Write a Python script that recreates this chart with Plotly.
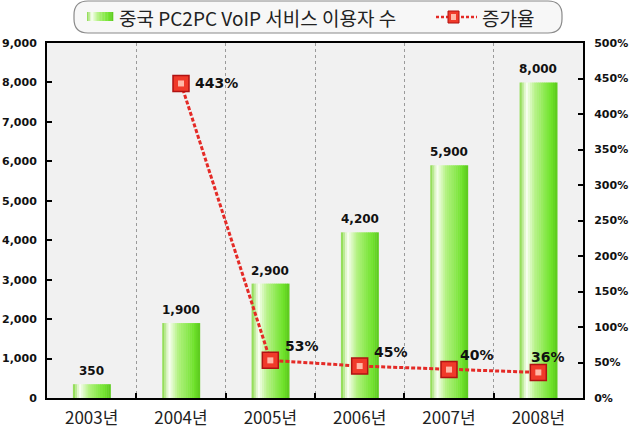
import plotly.graph_objects as go

# data
years = ["2003년", "2004년", "2005년", "2006년", "2007년", "2008년"]
users = [350, 1900, 2900, 4200, 5900, 8000]
rate_years = ["2004년", "2005년", "2006년", "2007년", "2008년"]
rates = [443, 53, 45, 40, 36]

bar_name = "중국 PC2PC VoIP 서비스 이용자 수"
line_name = "증가율"

W, H = 630, 428
L, R, T, B = 47, 47, 43, 30
PW, PH = W - L - R, H - T - B


def px(x):
    return (x - L) / PW


def py(y):
    return (H - B - y) / PH


def hexmix(c1, c2, t):
    a = [int(c1[i:i + 2], 16) for i in (1, 3, 5)]
    b = [int(c2[i:i + 2], 16) for i in (1, 3, 5)]
    return "#" + "".join(f"{round(a[k] + (b[k] - a[k]) * t):02x}" for k in range(3))


stops = [(0.0, "#84d840"), (0.18, "#fbfff6"), (0.42, "#b4f282"),
         (0.85, "#6ee22a"), (1.0, "#5cc81e")]


def grad(t):
    for (t0, c0), (t1, c1) in zip(stops, stops[1:]):
        if t <= t1:
            return hexmix(c0, c1, (t - t0) / (t1 - t0))
    return stops[-1][1]


fig = go.Figure()

# bars drawn as thin vertical strips to get the horizontal gradient
bw = 0.42
n = 18
sw = bw / n
for i in range(n):
    fig.add_trace(go.Bar(
        x=years, y=users, width=sw * 1.2, offset=-bw / 2 + i * sw,
        marker=dict(color=grad((i + 0.5) / n), line_width=0),
        showlegend=False, hoverinfo="skip"))

# growth rate line
fig.add_trace(go.Scatter(
    x=rate_years, y=rates, yaxis="y2", mode="lines+markers",
    line=dict(color="#e42a26", width=3, dash="4px,2px"),
    marker=dict(symbol="square", size=16, color="#f03a2a",
                line=dict(color="#b01212", width=1.5)),
    showlegend=False))
fig.add_trace(go.Scatter(
    x=rate_years, y=rates, yaxis="y2", mode="markers",
    marker=dict(symbol="square", size=6, color="#ffb8a8"),
    showlegend=False, hoverinfo="skip"))

label_font = dict(family="DejaVu Sans", size=12, color="#111", weight="bold")
annotations = []
for yr, v in zip(years, users):
    annotations.append(dict(x=yr, y=v, xref="x", yref="y", text=f"{v:,}",
                            showarrow=False, yanchor="bottom", yshift=4,
                            font=label_font))
# label offsets (px) next to each rate marker
rate_dx = [12, 13, 12, 9, -9]
rate_dy = [0, 14, 14, 15, 15]
for yr, v, dx, dy in zip(rate_years, rates, rate_dx, rate_dy):
    annotations.append(dict(x=yr, y=v, xref="x", yref="y2", text=f"{v}%",
                            showarrow=False, xanchor="left", yanchor="middle",
                            xshift=dx, yshift=dy,
                            font=dict(label_font, size=14)))

shapes = []
# rounded legend box
x0, x1, y0, y1, r = px(74), px(562), py(1), py(33), 14
rx, ry = r / PW, r / PH
path = (f"M {x0 + rx},{y0} L {x1 - rx},{y0} Q {x1},{y0} {x1},{y0 - ry} "
        f"L {x1},{y1 + ry} Q {x1},{y1} {x1 - rx},{y1} L {x0 + rx},{y1} "
        f"Q {x0},{y1} {x0},{y1 + ry} L {x0},{y0 - ry} Q {x0},{y0} {x0 + rx},{y0} Z")
shapes.append(dict(type="path", xref="paper", yref="paper", path=path,
                   fillcolor="#f7f7f7", line=dict(color="#8a8a8a", width=1.2)))
# green legend swatch
for i in range(n):
    a = 87 + i * 26 / n
    shapes.append(dict(type="rect", xref="paper", yref="paper",
                       x0=px(a), x1=px(a + 26 / n + 0.3), y0=py(21), y1=py(12),
                       fillcolor=grad((i + 0.5) / n), line_width=0))
# red legend symbol
shapes.append(dict(type="line", xref="paper", yref="paper",
                   x0=px(436), x1=px(477), y0=py(17), y1=py(17),
                   line=dict(color="#e42a26", width=2.5, dash="3px,2px")))
shapes.append(dict(type="rect", xref="paper", yref="paper",
                   x0=px(448), x1=px(459), y0=py(23), y1=py(11),
                   fillcolor="#f03a2a", line=dict(color="#b01212", width=1)))
shapes.append(dict(type="rect", xref="paper", yref="paper",
                   x0=px(451), x1=px(456), y0=py(20), y1=py(14),
                   fillcolor="#ffb8a8", line_width=0))

legend_font = dict(family="Noto Sans CJK KR", size=19, color="#222")
annotations += [
    dict(x=px(117), y=py(17), xref="paper", yref="paper", text=bar_name,
         showarrow=False, xanchor="left", yanchor="middle", font=legend_font),
    dict(x=px(480), y=py(17), xref="paper", yref="paper", text=line_name,
         showarrow=False, xanchor="left", yanchor="middle", font=legend_font),
]

axis_font = dict(family="DejaVu Sans", size=11, color="#111", weight="bold")

fig.update_layout(
    width=W, height=H,
    margin=dict(l=L, r=R, t=T, b=B, autoexpand=False),
    paper_bgcolor="white", plot_bgcolor="#f1f1f1",
    barmode="overlay", showlegend=False,
    shapes=shapes, annotations=annotations,
    xaxis=dict(type="category", tickson="boundaries", showgrid=True,
               gridcolor="#9a9a9a", griddash="dot", gridwidth=1,
               showline=True, linecolor="black", linewidth=2, mirror=True,
               ticks="inside", ticklen=5, tickwidth=2, tickcolor="black",
               ticklabelstandoff=4,
               tickfont=dict(family="Noto Sans CJK KR", size=17, color="#222")),
    yaxis=dict(range=[0, 9000], dtick=1000, tickformat=",", showgrid=False,
               zeroline=False, showline=True, linecolor="black", linewidth=2,
               ticks="inside", ticklen=5, tickwidth=2, tickcolor="black",
               ticklabelstandoff=6, tickfont=axis_font),
    yaxis2=dict(range=[0, 500], dtick=50, ticksuffix="%", overlaying="y",
                side="right", showgrid=False, zeroline=False, showline=True,
                linecolor="black", linewidth=2,
                ticks="inside", ticklen=5, tickwidth=2, tickcolor="black",
                ticklabelstandoff=7, tickfont=axis_font),
)

# the page's default 8px body margin would push the figure out of the window
fig.write_html("out.html", config={"displayModeBar": False},
               post_script="document.body.style.margin='0';")
